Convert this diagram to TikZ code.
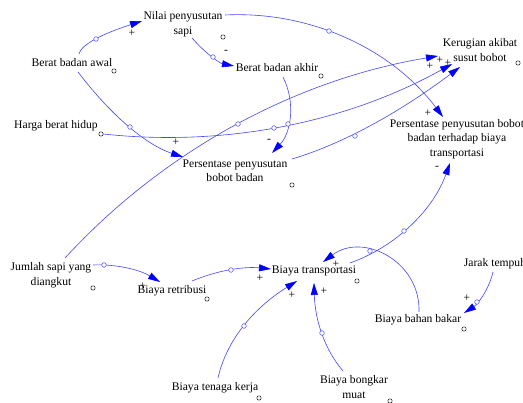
\documentclass[tikz,border=0pt]{standalone}
\usepackage{fontspec}
\setmainfont{Liberation Serif}
\usetikzlibrary{arrows.meta}
\definecolor{linkblue}{RGB}{70,70,255}
\definecolor{tipblue}{RGB}{0,0,255}
\newcommand\lblfont{\fontsize{11.6}{14.5}\selectfont}
\tikzset{
  lbl/.style={font=\lblfont, align=center, inner sep=1pt},
  link/.style={draw=linkblue, line width=0.6pt,
    -{Triangle[length=12pt,width=7pt,color=tipblue]}},
  handle/.style={circle, draw=linkblue, fill=white, inner sep=0pt,
    minimum size=4.6pt, line width=0.5pt},
  varmark/.style={circle, draw=black, fill=white, inner sep=0pt,
    minimum size=4.4pt, line width=0.45pt},
  sgn/.style={font=\lblfont, inner sep=0pt}
}
\begin{document}
\begin{tikzpicture}[x=1pt,y=-1pt]
\useasboundingbox (0,0) rectangle (523,403);
\fill[white] (0,0) rectangle (523,403);

% variables
\node[lbl] (nilai)     at (183,24)  {Nilai penyusutan\\sapi};
\node[lbl] (awal)      at (72,63)   {Berat badan awal};
\node[lbl] (akhir)     at (277,68)  {Berat badan akhir};
\node[lbl] (kerugian)  at (480,50)  {Kerugian akibat\\susut bobot};
\node[lbl] (harga)     at (56,126)  {Harga berat hidup};
\node[lbl] (ppbb)      at (235,171) {Persentase penyusutan\\bobot badan};
\node[lbl] (ppbt)      at (457,139) {Persentase penyusutan bobot\\badan terhadap biaya\\transportasi};
\node[lbl] (jumlah)    at (51,275)  {Jumlah sapi yang\\diangkut};
\node[lbl] (retribusi) at (172,291) {Biaya retribusi};
\node[lbl] (transport) at (314,271) {Biaya transportasi};
\node[lbl] (jarak)     at (495,264) {Jarak tempuh};
\node[lbl] (bahan)     at (418,320) {Biaya bahan bakar};
\node[lbl] (tenaga)    at (215,388) {Biaya tenaga kerja};
\node[lbl] (bongkar)   at (354,387) {Biaya bongkar\\muat};

% small variable markers
\node[varmark] (m1)  at (223,37)  {};
\node[varmark] (m2)  at (114,71)  {};
\node[varmark] (m3)  at (321,76)  {};
\node[varmark] (m4)  at (518,63)  {};
\node[varmark] (m6)  at (292,185) {};
\node[varmark] (m7)  at (93,288)  {};
\node[varmark] (m8)  at (207,299) {};
\node[varmark] (m9)  at (357,281) {};
\node[varmark] (m10) at (464,329) {};
\node[varmark] (m11) at (259,398) {};
\node[varmark] (m12) at (390,401) {};

% causal links
\draw[link] ([shift={(7,-9)}]awal.center) .. controls (80.7,45) and (101.7,34) .. ([shift={(-41,-3)}]nilai.center);
\draw[link] ([shift={(9,14)}]nilai.center) .. controls (206,54) and (220,63.3) .. ([shift={(-43,-2)}]akhir.center);
\draw[link] ([shift={(6,9)}]awal.center) .. controls (112.3,117) and (147.3,145.3) .. ([shift={(-52,-14)}]ppbb.center);
\draw[link] ([shift={(47,8)}]harga.center) .. controls (223.6,147) and (345.1,123.4) .. ([shift={(-28,14)}]kerugian.center);
\draw[link] ([shift={(14,-17)}]jumlah.center) .. controls (163.3,151) and (294.7,79.9) .. ([shift={(-42,6)}]kerugian.center);
\draw[link] ([shift={(57,-12)}]ppbb.center) .. controls (342.4,143.9) and (398.4,113.2) .. ([shift={(-20,17)}]kerugian.center);
\draw[link] ([shift={(42,-9)}]nilai.center) .. controls (310.1,10.7) and (391.8,48.9) .. ([shift={(-14,-22)}]ppbt.center);
\draw[link] ([shift={(6,9)}]akhir.center) .. controls (295.7,102.1) and (291.3,132.5) .. ([shift={(37,-18)}]ppbb.center);
\draw[link] ([shift={(42,-10)}]jumlah.center) .. controls (116.5,263.9) and (139.9,269.9) .. ([shift={(-12,-9)}]retribusi.center);
\draw[link] ([shift={(20,-10)}]retribusi.center) .. controls (217.7,270.3) and (244,266.3) .. ([shift={(-43,-2)}]transport.center);
\draw[link] ([shift={(3,-10)}]tenaga.center) .. controls (226.3,341) and (252.7,308.7) .. ([shift={(-17,10)}]transport.center);
\draw[link] ([shift={(-11,-16)}]bongkar.center) .. controls (324.7,349.7) and (315,320.3) .. ([shift={(0,12)}]transport.center);
\draw[link] ([shift={(1,-8)}]bahan.center) .. controls (420.7,261.6) and (363.3,231.8) .. ([shift={(9,-9)}]transport.center);
\draw[link] ([shift={(36,-8)}]transport.center) .. controls (396.6,246.3) and (433.3,209.6) .. ([shift={(-7,24)}]ppbt.center);
\draw[link] ([shift={(-2,8)}]jarak.center) .. controls (488.9,288.9) and (478.6,303.6) .. ([shift={(46,-7)}]bahan.center);

% link handles
\node[handle] (h1)  at (96,39)   {};
\node[handle] (h2)  at (213,57)  {};
\node[handle] (h3)  at (130,127) {};
\node[handle] (h4)  at (274,128) {};
\node[handle] (h5)  at (238,124) {};
\node[handle] (h6)  at (355,136) {};
\node[handle] (h7)  at (329,31)  {};
\node[handle] (h8)  at (370,251) {};
\node[handle] (h9)  at (288,124) {};
\node[handle] (h10) at (104,265) {};
\node[handle] (h11) at (231,270) {};
\node[handle] (h12) at (244,326) {};
\node[handle] (h13) at (322,333) {};
\node[handle] (h14) at (404,231) {};
\node[handle] (h15) at (477,302) {};
\node[varmark] (m5) at (101,134) {};

% polarities
\node[sgn] (s1)  at (132,33)  {+};
\node[sgn] (s2)  at (226,52)  {-};
\node[sgn] (s3)  at (176,142) {+};
\node[sgn] (s4)  at (269,141) {-};
\node[sgn] (s5)  at (428,113) {+};
\node[sgn] (s6)  at (430,66)  {+};
\node[sgn] (s7)  at (440,60)  {+};
\node[sgn] (s8)  at (448,63)  {+};
\node[sgn] (s9)  at (437,168) {-};
\node[sgn] (s10) at (143,286) {+};
\node[sgn] (s11) at (260,278) {+};
\node[sgn] (s12) at (336,264) {+};
\node[sgn] (s13) at (292,295) {+};
\node[sgn] (s14) at (324,291) {+};
\node[sgn] (s15) at (467,298) {+};
\end{tikzpicture}
\end{document}
